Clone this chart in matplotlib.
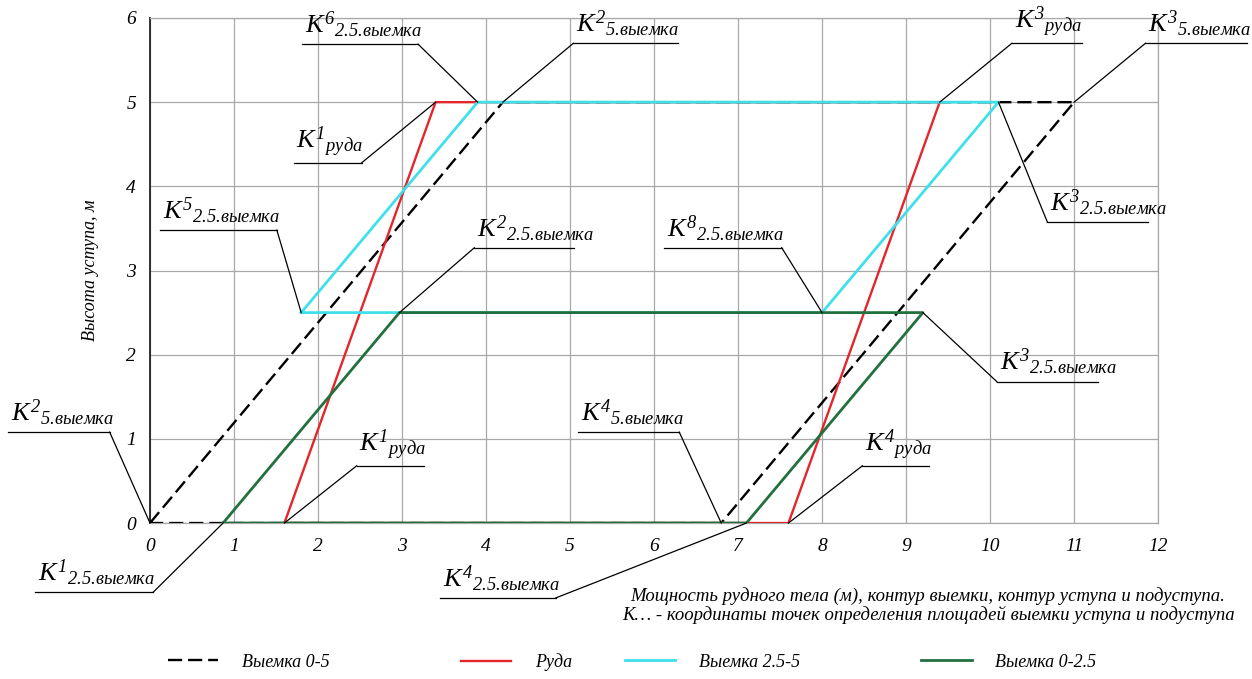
import matplotlib
matplotlib.use("Agg")
import matplotlib.pyplot as plt

plt.rcParams['font.family'] = ['Liberation Serif', 'DejaVu Serif']
plt.rcParams['font.style'] = 'italic'
plt.rcParams['mathtext.fontset'] = 'custom'
plt.rcParams['mathtext.rm'] = 'Liberation Serif:italic'
plt.rcParams['mathtext.it'] = 'Liberation Serif:italic'

# contours (x - мощность, y - высота)
vyemka5_x = [0, 4.2, 11.0, 6.8, 0]
vyemka5_y = [0, 5, 5, 0, 0]
ruda_x = [1.6, 3.4, 9.4, 7.6, 1.6]
ruda_y = [0, 5, 5, 0, 0]
vyemka25_5_x = [1.8, 3.9, 10.1, 8.0, 1.8]
vyemka25_5_y = [2.5, 5, 5, 2.5, 2.5]
vyemka0_25_x = [0.87, 2.97, 9.2, 7.1, 0.87]
vyemka0_25_y = [0, 2.5, 2.5, 0, 0]

# callouts: sup, sub, point, underline y, underline x-range, elbow side
callouts = [
    ('6', '2.5.выемка', (3.9, 5), 5.69, (1.81, 3.19), 'right'),
    ('2', '5.выемка', (4.2, 5), 5.70, (5.04, 6.29), 'left'),
    ('3', 'руда', (9.4, 5), 5.70, (10.26, 11.10), 'left'),
    ('3', '5.выемка', (11.0, 5), 5.70, (11.85, 13.06), 'left'),
    ('1', 'руда', (3.4, 5), 4.28, (1.71, 2.52), 'right'),
    ('5', '2.5.выемка', (1.8, 2.5), 3.48, (0.12, 1.51), 'right'),
    ('2', '2.5.выемка', (2.97, 2.5), 3.27, (3.86, 5.05), 'left'),
    ('8', '2.5.выемка', (8.0, 2.5), 3.27, (6.12, 7.52), 'right'),
    ('3', '2.5.выемка', (10.1, 5), 3.58, (10.68, 11.88), 'left'),
    ('3', '2.5.выемка', (9.2, 2.5), 1.68, (10.08, 11.29), 'left'),
    ('4', 'руда', (7.6, 0), 0.68, (8.48, 9.27), 'left'),
    ('4', '5.выемка', (6.8, 0), 1.08, (5.10, 6.30), 'right'),
    ('1', 'руда', (1.6, 0), 0.68, (2.46, 3.26), 'left'),
    ('2', '5.выемка', (0, 0), 1.08, (-1.69, -0.48), 'right'),
    ('1', '2.5.выемка', (0.87, 0), -0.82, (-1.37, 0.04), 'right'),
    ('4', '2.5.выемка', (7.1, 0), -0.89, (3.45, 4.83), 'right'),
]

fig = plt.figure(figsize=(12.52, 6.79), dpi=100)
ax = fig.add_axes([0.1198, 0.2297, 0.8052, 0.7438])

l1, = ax.plot(vyemka5_x, vyemka5_y, color='black', lw=1.7, dashes=(6, 2.5),
              label='Выемка 0-5', zorder=3)
l2, = ax.plot(ruda_x, ruda_y, color='#e3262b', lw=1.7, label='Руда', zorder=4)
l3, = ax.plot(vyemka25_5_x, vyemka25_5_y, color='#3fe0ea', lw=2.0,
              label='Выемка 2.5-5', zorder=5)
l4, = ax.plot(vyemka0_25_x, vyemka0_25_y, color='#23703f', lw=2.0,
              label='Выемка 0-2.5', zorder=6)

ax.set_xlim(0, 12)
ax.set_ylim(0, 6)
ax.set_xticks(range(0, 13))
ax.set_yticks(range(0, 7))
ax.grid(True, color='#a8a8a8', lw=0.9)
ax.set_axisbelow(True)
for side in ['top', 'right', 'bottom']:
    ax.spines[side].set_color('#a8a8a8')
    ax.spines[side].set_linewidth(0.9)
ax.spines['left'].set_color('#222222')
ax.spines['left'].set_linewidth(1.3)
ax.tick_params(axis='both', length=0, labelsize=14)
ax.tick_params(axis='x', pad=11)
ax.tick_params(axis='y', pad=10)
ax.set_ylabel('Высота уступа, м', fontsize=13, labelpad=20)

for sup, sub, pt, uy, (ux0, ux1), side in callouts:
    ex = ux1 if side == 'right' else ux0
    ax.plot([pt[0], ex], [pt[1], uy], color='black', lw=0.9, clip_on=False, zorder=7)
    ax.plot([ux0, ux1], [uy, uy], color='black', lw=0.9, clip_on=False, zorder=7)
    ax.annotate(r'$K^{' + sup + r'}{}_{\text{' + sub + r'}}$', xy=(ux0, uy),
                xytext=(2, 3), textcoords='offset points',
                fontsize=19, ha='left', va='bottom', annotation_clip=False)

fig.text(0.503, 0.122, 'Мощность рудного тела (м), контур выемки, контур уступа и подуступа.',
         fontsize=13.5, ha='left', va='center')
fig.text(0.497, 0.094, 'К… - координаты точек определения площадей выемки уступа и подуступа',
         fontsize=13.5, ha='left', va='center')

legend_x = [0.121, 0.355, 0.486, 0.723]
for h, lx in zip([l1, l2, l3, l4], legend_x):
    fig.legend(handles=[h], loc='center left', bbox_to_anchor=(lx, 0.025),
               frameon=False, fontsize=13, handlelength=2.8, handletextpad=1.3)

fig.savefig('out.png', dpi=100)
